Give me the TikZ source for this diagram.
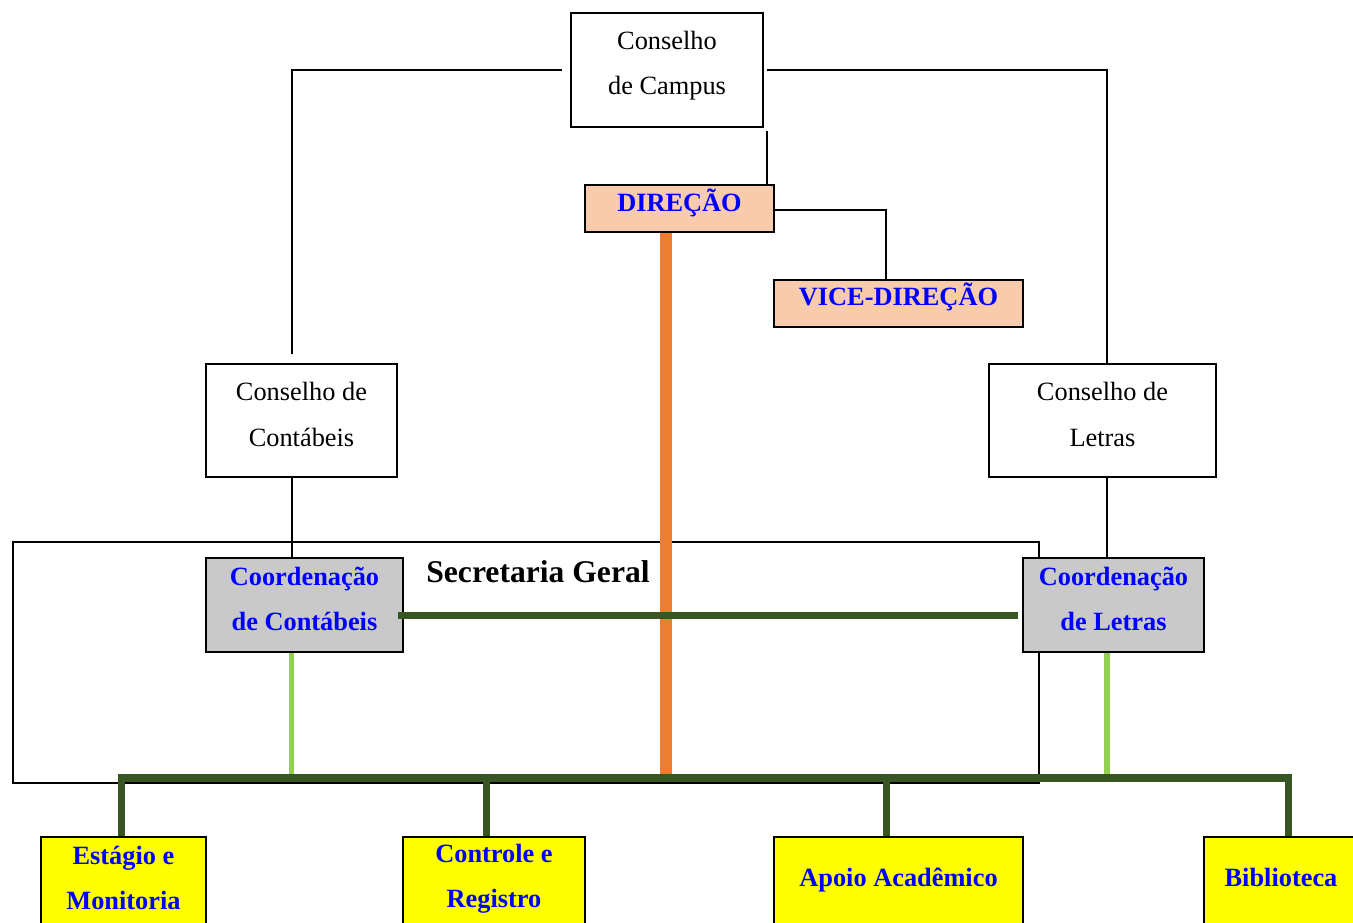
\documentclass[tikz,border=0pt]{standalone}
\usepackage{fontspec}
\setmainfont{Liberation Serif}
\definecolor{pessego}{HTML}{F8CBAD}
\definecolor{cinza}{HTML}{C9C9C9}
\definecolor{amarelo}{HTML}{FFFF00}
\definecolor{verdeescuro}{HTML}{375623}
\definecolor{verdeclaro}{HTML}{92D050}
\definecolor{laranja}{HTML}{ED7D31}
\definecolor{azul}{HTML}{0000FF}
\tikzset{
	caixa/.style={draw,line width=1.1pt,inner sep=0pt},
	conselho/.style={caixa,fill=white},
	direcaobox/.style={caixa,fill=pessego},
	coordbox/.style={caixa,fill=cinza},
	setorbox/.style={caixa,fill=amarelo},
	rotulo/.style={align=center,inner sep=0pt,yshift=3.4pt,font=\fontsize{15}{26}\selectfont},
	rotuloazul/.style={rotulo,text=azul,font=\fontsize{15}{26}\selectfont\bfseries},
	fio/.style={line width=0.9pt},
	barrav/.style={line width=4pt,color=verdeescuro,line join=miter},
	fiolaranja/.style={line width=6.8pt,color=laranja},
	fioclaro/.style={line width=3pt,color=verdeclaro}
}
\begin{document}
\begin{tikzpicture}[x=0.02cm,y=-0.02cm]
		\useasboundingbox (0,0) rectangle (1353,923);
		\clip (0,0) rectangle (1353,923);
		\node[draw,line width=0.7pt,minimum width=20.52cm,minimum height=4.82cm] (secretaria) at (526,662.5) {};
		\node[font=\fontsize{18}{22}\selectfont\bfseries] (secretariatxt) at (538,572) {Secretaria Geral};
		\node[conselho,minimum width=3.84cm,minimum height=2.28cm,label={[rotulo,yshift=-1pt]center:Conselho\\de Campus}] (campus) at (667,70) {};
		\node[direcaobox,minimum width=3.78cm,minimum height=0.94cm,label={[rotuloazul]center:DIREÇÃO}] (direcao) at (679.5,208.5) {};
		\node[direcaobox,minimum width=4.98cm,minimum height=0.94cm,label={[rotuloazul,yshift=0.6pt]center:VICE-DIREÇÃO}] (vice) at (898.5,303.5) {};
		\node[conselho,minimum width=3.82cm,minimum height=2.26cm,label={[rotulo]center:Conselho de\\Contábeis}] (ccontabeis) at (301.5,420.5) {};
		\node[conselho,minimum width=4.54cm,minimum height=2.26cm,label={[rotulo]center:Conselho de\\Letras}] (cletras) at (1102.5,420.5) {};
		\node[coordbox,minimum width=3.94cm,minimum height=1.88cm,label={[rotuloazul]center:Coordenação\\de Contábeis}] (coordcont) at (304.5,605) {};
		\node[coordbox,minimum width=3.62cm,minimum height=1.88cm,label={[rotuloazul]center:Coordenação\\de Letras}] (coordletras) at (1113.5,605) {};
		\node[setorbox,minimum width=3.30cm,minimum height=1.76cm,label={[rotuloazul,yshift=-1.7pt]center:Estágio e\\Monitoria}] (estagio) at (123.5,881) {};
		\node[setorbox,minimum width=3.64cm,minimum height=1.76cm,label={[rotuloazul,yshift=-2.2pt]center:Controle e\\Registro}] (controle) at (494,881) {};
		\node[setorbox,minimum width=4.98cm,minimum height=1.76cm,label={[rotuloazul,yshift=-2.8pt]center:Apoio Acadêmico}] (apoio) at (898.5,881) {};
		\node[setorbox,minimum width=3.08cm,minimum height=1.76cm,label={[rotuloazul,yshift=-1.2pt]center:Biblioteca}] (biblioteca) at (1281,881) {};
		\coordinate (barra) at (0,778);
		\coordinate (cantocampus) at ([xshift=1.7pt,yshift=-1.7pt]campus.south east);
		\coordinate (c1) at ([xshift=-5.4pt]ccontabeis.south);
		\coordinate (c2) at ([xshift=2.5pt]cletras.south);
		\coordinate (l1) at ([xshift=-7.5pt]direcao.south);
		\coordinate (v1) at ([xshift=-7.4pt]coordcont.south);
		\coordinate (v2) at ([xshift=-3.7pt]coordletras.south);
		\coordinate (d1) at ([xshift=-1.4pt]estagio.north);
		\coordinate (d2) at ([xshift=-4.5pt]controle.north);
		\coordinate (d3) at ([xshift=-7.1pt]apoio.north);
		\coordinate (d4) at ([xshift=4pt]biblioteca.north);
		\draw[fio,shorten <=4.5pt,shorten >=5pt] (campus.west) -| ([xshift=-5.4pt]ccontabeis.north);
		\draw[fio,shorten <=1.7pt] (campus.east) -| ([xshift=2.5pt]cletras.north);
		\draw[fio] (cantocampus) -- (cantocampus |- direcao.north);
		\draw[fio] ([yshift=-0.8pt]direcao.east) -| ([xshift=-7.1pt]vice.north);
		\draw[fio] (c1) -- (c1 |- coordcont.north);
		\draw[fio] (c2) -- (c2 |- coordletras.north);
		\draw[fiolaranja] (l1) -- (l1 |- barra);
		\draw[barrav,shorten <=-3.4pt,shorten >=2.3pt] ([yshift=-5.7pt]coordcont.east) -- ([yshift=-5.7pt]coordletras.west);
		\draw[fioclaro] (v1) -- (v1 |- barra);
		\draw[fioclaro] (v2) -- (v2 |- barra);
		\draw[barrav] (d1) -- (d1 |- barra) -- (d4 |- barra) -- (d4);
		\draw[barrav] (d2) -- (d2 |- barra);
		\draw[barrav] (d3) -- (d3 |- barra);
\end{tikzpicture}
\end{document}
